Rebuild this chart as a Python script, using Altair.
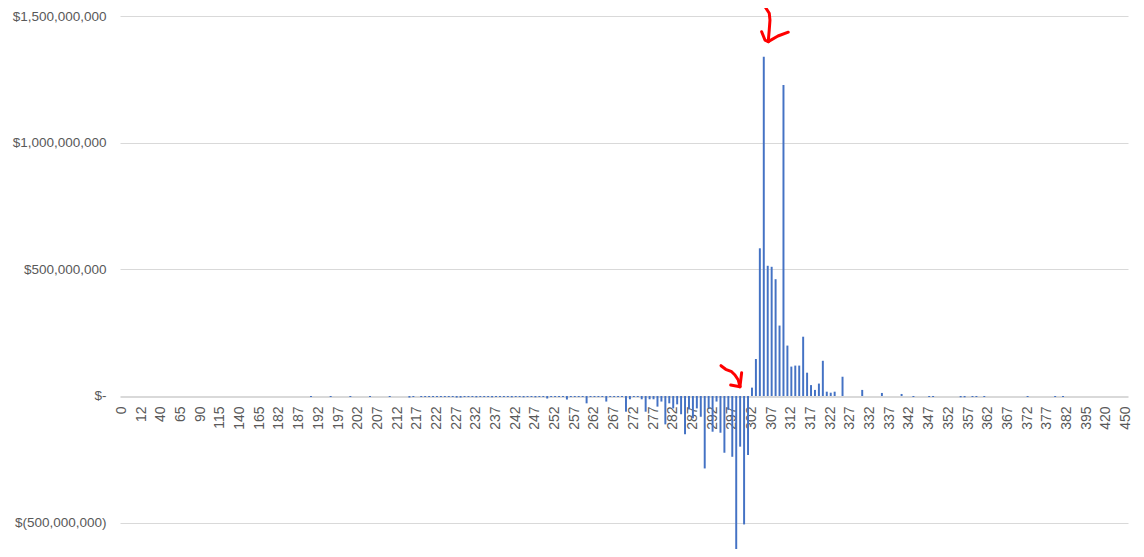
import altair as alt
import pandas as pd

# ---- categories (strike prices) ----
strikes_low = [0, 2, 5, 7, 10, 12, 20, 25, 30, 35,
               40, 45, 50, 55, 60, 65, 70, 75, 80, 85,
               90, 95, 100, 105, 110, 115, 120, 125, 130, 135,
               140, 145, 150, 155, 160, 165, 170, 175, 177, 180]
strikes_mid = list(range(182, 383))
strikes_high = [385, 387, 390, 392, 395, 400, 405, 410, 415, 420, 425, 430, 435, 440, 450]
strikes = strikes_low + strikes_mid + strikes_high

# ---- values in millions of dollars ----
values_low = [0, 0, 0, 0, 0, 0, 0, 0, 0, 0,
              0, 0, 0, 0, 0, 0, 0, 0, 0, 0,
              0, 0, 0, 0, 0, 0, 0, 0, 0, 0,
              0, 0, 0, 0, 0, 0, 0, 0, 0, 0]
values_mid = [
    0, 0, 0, 0, 0, 0, 0, 0,                                   # 182-189
    -4, 0, 0, 0, 0, -4, 0, 0, 0, 0,                           # 190-199
    -4, 0, 0, 0, 0, -4, 0, 0, 0, 0,                           # 200-209
    -4, 0, 0, 0, 0, -6, -4, 0, -4, -4,                        # 210-219
    -4, -4, -4, -4, -4, -4, -4, -6, -6, -4,                   # 220-229
    -4, -4, -5, -4, -4, -4, -5, -4, -4, -4,                   # 230-239
    -4, -5, -4, -4, -5, -4, -4, -5, -4, -4,                   # 240-249
    -10, -4, -4, -4, -4, -14, -4, -4, -4, -4,                 # 250-259
    -29, -4, -4, -4, -4, -22, -4, -4, -4, -4,                 # 260-269
    -62, -13, -4, -4, -13, -62, -13, -13, -42, -22,           # 270-279
    -112, -29, -49, -33, -72, -151, -53, -88, -49, -82,       # 280-289
    -286, -49, -141, -22, -145, -224, -55, -240, -608, -200,  # 290-299
    -507, -233, 33, 146, 583, 1339, 514, 510, 461, 278,       # 300-309
    1228, 199, 116, 120, 120, 234, 92, 43, 24, 49,            # 310-319
    139, 17, 13, 17, 0, 76, 0, 0, 0, 0,                       # 320-329
    24, 0, 0, 0, 0, 12, 0, 0, 0, 0,                           # 330-339
    8, 0, 0, -4, 0, 0, 0, -4, -4, 0,                          # 340-349
    0, 0, 0, 0, 0, -5, -5, 0, -4, -4,                         # 350-359
    0, -4, 0, 0, 0, 0, 0, 0, 0, 0,                            # 360-369
    0, 0, -4, 0, 0, 0, 0, 0, 0, -4,                           # 370-379
    0, -4, 0,                                                 # 380-382
]
values_high = [0, 0, 0, 0, 0, 0, 0, 0, 0, 0, 0, 0, 0, 0, 0]
values_musd = values_low + values_mid + values_high

tick_labels = [str(s) for s in strikes[::5]]
y_ticks = [-500000000, 0, 500000000, 1000000000, 1500000000]

# ---- red hand-drawn annotation arrows (strike units, billions of $) ----
arrow_paths = ["a1", "a1", "a1", "a1", "a1", "a1",
               "a1l", "a1l", "a1l",
               "a1r", "a1r", "a1r",
               "a2", "a2", "a2", "a2", "a2", "a2",
               "a2a", "a2a",
               "a2b", "a2b"]
arrow_s = [304.87, 305.30, 306.39, 306.57, 306.39, 306.13,
           304.46, 305.30, 306.13,
           306.13, 308.60, 311.22,
           294.13, 295.32, 296.84, 297.68, 298.52, 298.95,
           296.59, 298.95,
           299.38, 298.95]
arrow_v = [1.556, 1.537, 1.511, 1.484, 1.445, 1.399,
           1.438, 1.405, 1.399,
           1.399, 1.421, 1.436,
           0.1196, 0.1054, 0.0959, 0.0829, 0.0632, 0.0367,
           0.0434, 0.0367,
           0.0920, 0.0367]

df = pd.DataFrame({
    "strike": [str(s) for s in strikes],
    "value": [v * 1e6 for v in values_musd],
})
ann = pd.DataFrame({
    "path": arrow_paths,
    "s": arrow_s,
    "value": [v * 1e9 for v in arrow_v],
    "k": list(range(len(arrow_s))),
})

y_domain = [-604000000, 1500000000]
label_expr = ("datum.value == 0 ? '$-\u00a0\u00a0' : (datum.value < 0 ? "
              "'$(' + format(-datum.value, ',') + ')' : '$' + format(datum.value, ',') + '\u00a0')")

bars = alt.Chart(df).mark_bar(color="#4472C4", clip=True).encode(
    x=alt.X("strike:N", sort=[str(s) for s in strikes],
            scale=alt.Scale(paddingInner=0.5, paddingOuter=0.25),
            axis=alt.Axis(values=tick_labels, labelAngle=-90, ticks=False,
                          domainColor="#D9D9D9", domainWidth=1,
                          labelColor="#595959", labelFontSize=14,
                          labelFont="Liberation Sans", labelPadding=9,
                          offset=-152, title=None, labelOverlap=False, grid=False)),
    y=alt.Y("value:Q", scale=alt.Scale(domain=y_domain, nice=False, zero=False),
            axis=alt.Axis(values=y_ticks, labelExpr=label_expr, ticks=False, domain=False,
                          gridColor="#D9D9D9", gridWidth=1, labelColor="#595959",
                          labelFontSize=13.5, labelFont="Liberation Sans",
                          labelPadding=14, title=None)),
)

arrows = alt.Chart(ann).mark_line(color="#FF0000", strokeWidth=3, strokeCap="round",
                                  strokeJoin="round", clip=False).encode(
    x=alt.X("s:Q", scale=alt.Scale(domain=[141.5, 397.5], nice=False, zero=False), axis=None),
    y=alt.Y("value:Q", scale=alt.Scale(domain=y_domain, nice=False, zero=False), axis=None),
    detail="path:N",
    order="k:Q",
)

chart = alt.layer(bars, arrows).resolve_scale(x="independent").resolve_axis(
    y="independent"
).properties(
    width=1008, height=533,
    autosize=alt.AutoSizeParams(type="none"),
    padding={"left": 112, "top": 8, "right": 8, "bottom": 0},
).configure_view(strokeWidth=0)

chart.save("out.html", embed_options={"renderer": "svg", "actions": False})
